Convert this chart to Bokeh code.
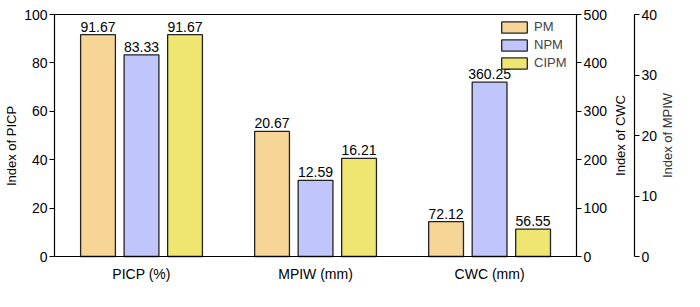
import math
from bokeh.plotting import figure
from bokeh.models import (Range1d, LinearAxis, FixedTicker, ColumnDataSource,
                          Legend, LegendItem, Label)
from bokeh.core.properties import value
from bokeh.embed import file_html
from bokeh.resources import INLINE

categories = ["PICP (%)", "MPIW (mm)", "CWC (mm)"]
methods = ["PM", "NPM", "CIPM"]
picp_values = [91.67, 83.33, 91.67]
mpiw_values = [20.67, 12.59, 16.21]
cwc_values = [72.12, 360.25, 56.55]
colors = ["#F7D597", "#C0C6FB", "#EFE671"]
picp_ticks = [0, 20, 40, 60, 80, 100]
cwc_ticks = [0, 100, 200, 300, 400, 500]
mpiw_ticks = [0, 10, 20, 30, 40]
left_title = "Index of PICP"
cwc_title = "Index of CWC"
mpiw_title = "Index of MPIW"

FONT = "Liberation Sans"
offsets = [-0.25, 0.0, 0.25]
bar_width = 0.2

# layout: the frame fills the figure height; the bar area sits inside it
H = 291
AREA_TOP, AREA_BOTTOM = 14, 256          # pixel rows of the bar area
pad_top = AREA_TOP / (AREA_BOTTOM - AREA_TOP)
pad_bot = (H - AREA_BOTTOM) / (AREA_BOTTOM - AREA_TOP)


def padded(lo, hi):
    span = hi - lo
    return Range1d(lo - pad_bot * span, hi + pad_top * span)


n = len(categories)
centers = [i + 0.5 for i in range(n)]
x_end = n + 0.62  # room on the right of the bar area for the two extra axes

p = figure(x_range=Range1d(0, x_end), y_range=padded(picp_ticks[0], picp_ticks[-1]),
           width=684, height=H,
           min_border_left=54, min_border_top=0, min_border_bottom=0,
           min_border_right=0,
           output_backend="svg", toolbar_location=None,
           background_fill_color="white", border_fill_color="white")
p.extra_y_ranges = {"cwc": padded(cwc_ticks[0], cwc_ticks[-1]),
                    "mpiw": padded(mpiw_ticks[0], mpiw_ticks[-1])}
p.xgrid.visible = False
p.ygrid.visible = False
p.outline_line_color = None

groups = [
    (picp_values, "default"),
    (mpiw_values, "mpiw"),
    (cwc_values, "cwc"),
]

legend_renderers = {}
for g, (vals, rname) in enumerate(groups):
    for i, m in enumerate(methods):
        src = ColumnDataSource(dict(x=[centers[g] + offsets[i]], top=[vals[i]],
                                    label=[f"{vals[i]:.2f}"]))
        r = p.vbar(x="x", top="top", bottom=0, width=bar_width, source=src,
                   y_range_name=rname, fill_color=colors[i],
                   line_color="#222222", line_width=1.3)
        p.text(x="x", y="top", text="label", source=src, y_range_name=rname,
               text_align="center", text_baseline="bottom", y_offset=-3,
               text_font=value(FONT), text_font_size="14px", text_color="black")
        if m not in legend_renderers:
            legend_renderers[m] = r


def style_axis(ax, size="14px"):
    ax.axis_line_color = "black"
    ax.axis_line_width = 1.2
    ax.major_tick_line_color = "black"
    ax.major_tick_line_width = 1.2
    ax.major_tick_out = 5
    ax.major_tick_in = 0
    ax.minor_tick_line_color = None
    ax.major_label_text_font = FONT
    ax.major_label_text_font_size = size
    ax.major_label_text_color = "black"
    ax.major_label_standoff = 2
    ax.axis_label_text_font = FONT
    ax.axis_label_text_font_size = "13px"
    ax.axis_label_text_font_style = "normal"
    ax.axis_label_text_color = "black"
    ax.axis_label_standoff = 2


# left axis
yl = p.yaxis[0]
yl.ticker = FixedTicker(ticks=picp_ticks)
yl.bounds = (picp_ticks[0], picp_ticks[-1])
yl.axis_label = left_title
style_axis(yl)

# bottom axis with category names
xa = p.xaxis[0]
style_axis(xa)
xa.fixed_location = picp_ticks[0]
xa.bounds = (0, n)
xa.ticker = FixedTicker(ticks=centers)
xa.major_label_overrides = {c: name for c, name in zip(centers, categories)}
xa.major_tick_line_color = None
xa.major_tick_out = 0
xa.major_label_standoff = 9

# top border line of the bar area
top_ax = LinearAxis(bounds=(0, n), ticker=FixedTicker(ticks=[]),
                    fixed_location=picp_ticks[-1])
top_ax.axis_line_color = "black"
top_ax.axis_line_width = 1.2
top_ax.major_tick_line_color = None
top_ax.minor_tick_line_color = None
top_ax.major_label_text_font_size = "0px"
top_ax.major_tick_out = 0
p.add_layout(top_ax, "above")

# right axes
ax_cwc = LinearAxis(y_range_name="cwc", ticker=FixedTicker(ticks=cwc_ticks),
                    bounds=(cwc_ticks[0], cwc_ticks[-1]), fixed_location=n)
style_axis(ax_cwc)
p.add_layout(ax_cwc, "right")

ax_mpiw = LinearAxis(y_range_name="mpiw", ticker=FixedTicker(ticks=mpiw_ticks),
                     bounds=(mpiw_ticks[0], mpiw_ticks[-1]), fixed_location=n + 0.333)
style_axis(ax_mpiw)
p.add_layout(ax_mpiw, "right")

mid = (picp_ticks[0] + picp_ticks[-1]) / 2
p.add_layout(Label(x=n + 0.253, y=mid, text=cwc_title, angle=math.pi / 2,
                   text_align="center", text_baseline="middle",
                   text_font=FONT, text_font_size="13px", text_color="black"))
p.add_layout(Label(x=n + 0.523, y=mid, text=mpiw_title, angle=math.pi / 2,
                   text_align="center", text_baseline="middle",
                   text_font=FONT, text_font_size="13px", text_color="#333333"))

legend = Legend(items=[LegendItem(label=m, renderers=[legend_renderers[m]]) for m in methods],
                location=(444, 221))
legend.glyph_width = 32
legend.glyph_height = 14
legend.label_height = 14
legend.spacing = 3
legend.padding = 3
legend.margin = 0
legend.label_standoff = 4
legend.label_text_font = FONT
legend.label_text_font_size = "13px"
legend.border_line_color = None
legend.background_fill_alpha = 0
p.add_layout(legend, "center")

open("out.html", "w").write(file_html(p, INLINE))
